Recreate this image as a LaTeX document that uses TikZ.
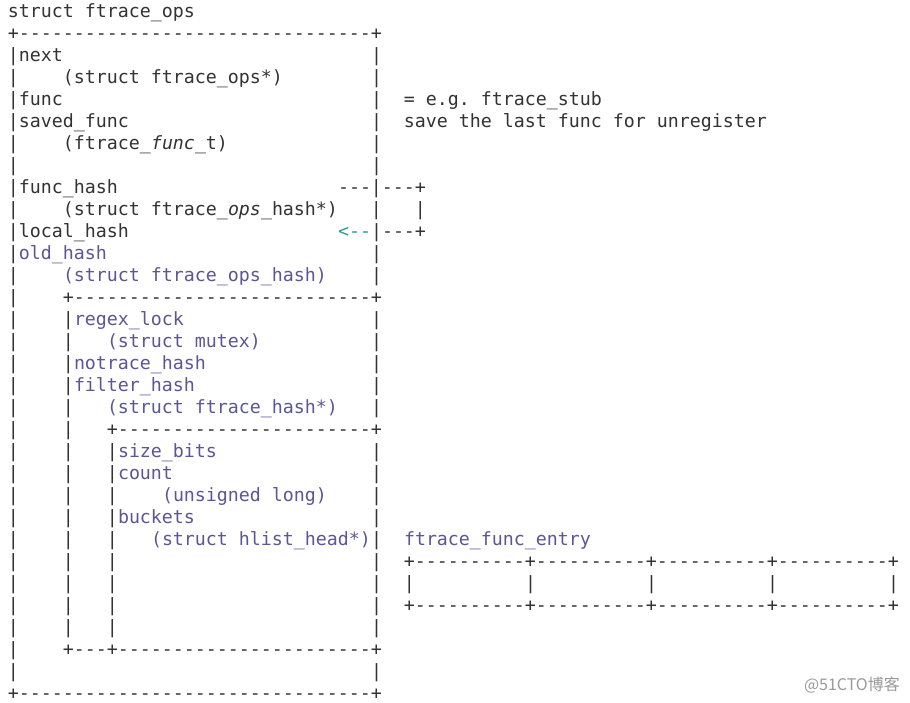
\documentclass[tikz,border=0pt]{standalone}
\usepackage{fontspec}
\setmonofont{DejaVu Sans Mono}
\newfontfamily\cjk{Noto Sans CJK SC}
\definecolor{ink}{HTML}{333333}
\definecolor{fld}{HTML}{5C5696}
\definecolor{arr}{HTML}{2E9A9A}
\definecolor{wmc}{HTML}{9A9A9A}
\newcommand\s[1]{\hspace*{#1\fontcharwd\font`x}}
\newcommand\rep[2]{\foreach \k in {1,...,#1}{#2}}
\newcommand\fld[1]{\textcolor{fld}{#1}}
\newcommand\seg{+\rep{10}{-}}
\tikzset{txt/.style={anchor=base west, inner sep=0pt, font=\ttfamily\fontsize{18.271}{22}\selectfont, text=ink}}
\newcommand\row[3]{\node[txt] (#1) at (7.8,{-17.5-22*#2}) {#3};}
\begin{document}
\begin{tikzpicture}[x=1pt,y=1pt]
\fill[white] (0,0) rectangle (910,-703);
\useasboundingbox (0,0) rectangle (910,-703);
\row{r0}{0}{struct ftrace\_ops}
\row{r1}{1}{+\rep{32}{-}+}
\row{r2}{2}{|next\s{28}|}
\row{r3}{3}{|\s{4}(struct ftrace\_ops*)\s{8}|}
\row{r4}{4}{|func\s{28}|\s{2}= e.g. ftrace\_stub}
\row{r5}{5}{|saved\_func\s{22}|\s{2}save the last func for unregister}
\row{r6}{6}{|\s{4}(ftrace\_\textit{func}\_t)\s{13}|}
\row{r7}{7}{|\s{32}|}
\row{r8}{8}{|func\_hash\s{20}---|---+}
\row{r9}{9}{|\s{4}(struct ftrace\_\textit{ops}\_hash*)\s{3}|\s{3}|}
\row{r10}{10}{|local\_hash\s{19}\textcolor{arr}{<--}|---+}
\row{r11}{11}{|\fld{old\_hash}\s{24}|}
\row{r12}{12}{|\s{4}\fld{(struct ftrace\_ops\_hash)}\s{4}|}
\row{r13}{13}{|\s{4}+\rep{27}{-}+}
\row{r14}{14}{|\s{4}|\fld{regex\_lock}\s{17}|}
\row{r15}{15}{|\s{4}|\s{3}\fld{(struct mutex)}\s{10}|}
\row{r16}{16}{|\s{4}|\fld{notrace\_hash}\s{15}|}
\row{r17}{17}{|\s{4}|\fld{filter\_hash}\s{16}|}
\row{r18}{18}{|\s{4}|\s{3}\fld{(struct ftrace\_hash*)}\s{3}|}
\row{r19}{19}{|\s{4}|\s{3}+\rep{23}{-}+}
\row{r20}{20}{|\s{4}|\s{3}|\fld{size\_bits}\s{14}|}
\row{r21}{21}{|\s{4}|\s{3}|\fld{count}\s{18}|}
\row{r22}{22}{|\s{4}|\s{3}|\s{4}\fld{(unsigned long)}\s{4}|}
\row{r23}{23}{|\s{4}|\s{3}|\fld{buckets}\s{16}|}
\row{r24}{24}{|\s{4}|\s{3}|\s{3}\fld{(struct hlist\_head*)}|\s{2}\fld{ftrace\_func\_entry}}
\row{r25}{25}{|\s{4}|\s{3}|\s{23}|\s{2}\seg\seg\seg\seg+}
\row{r26}{26}{|\s{4}|\s{3}|\s{23}|\s{2}|\s{10}|\s{10}|\s{10}|\s{10}|}
\row{r27}{27}{|\s{4}|\s{3}|\s{23}|\s{2}\seg\seg\seg\seg+}
\row{r28}{28}{|\s{4}|\s{3}|\s{23}|}
\row{r29}{29}{|\s{4}+---+\rep{23}{-}+}
\row{r30}{30}{|\s{32}|}
\row{r31}{31}{+\rep{32}{-}+}
\node[anchor=base east, inner sep=0pt, font=\cjk\fontsize{16}{19}\selectfont, text=wmc] (wm) at (900,-690) {@51CTO博客};
\end{tikzpicture}
\end{document}
